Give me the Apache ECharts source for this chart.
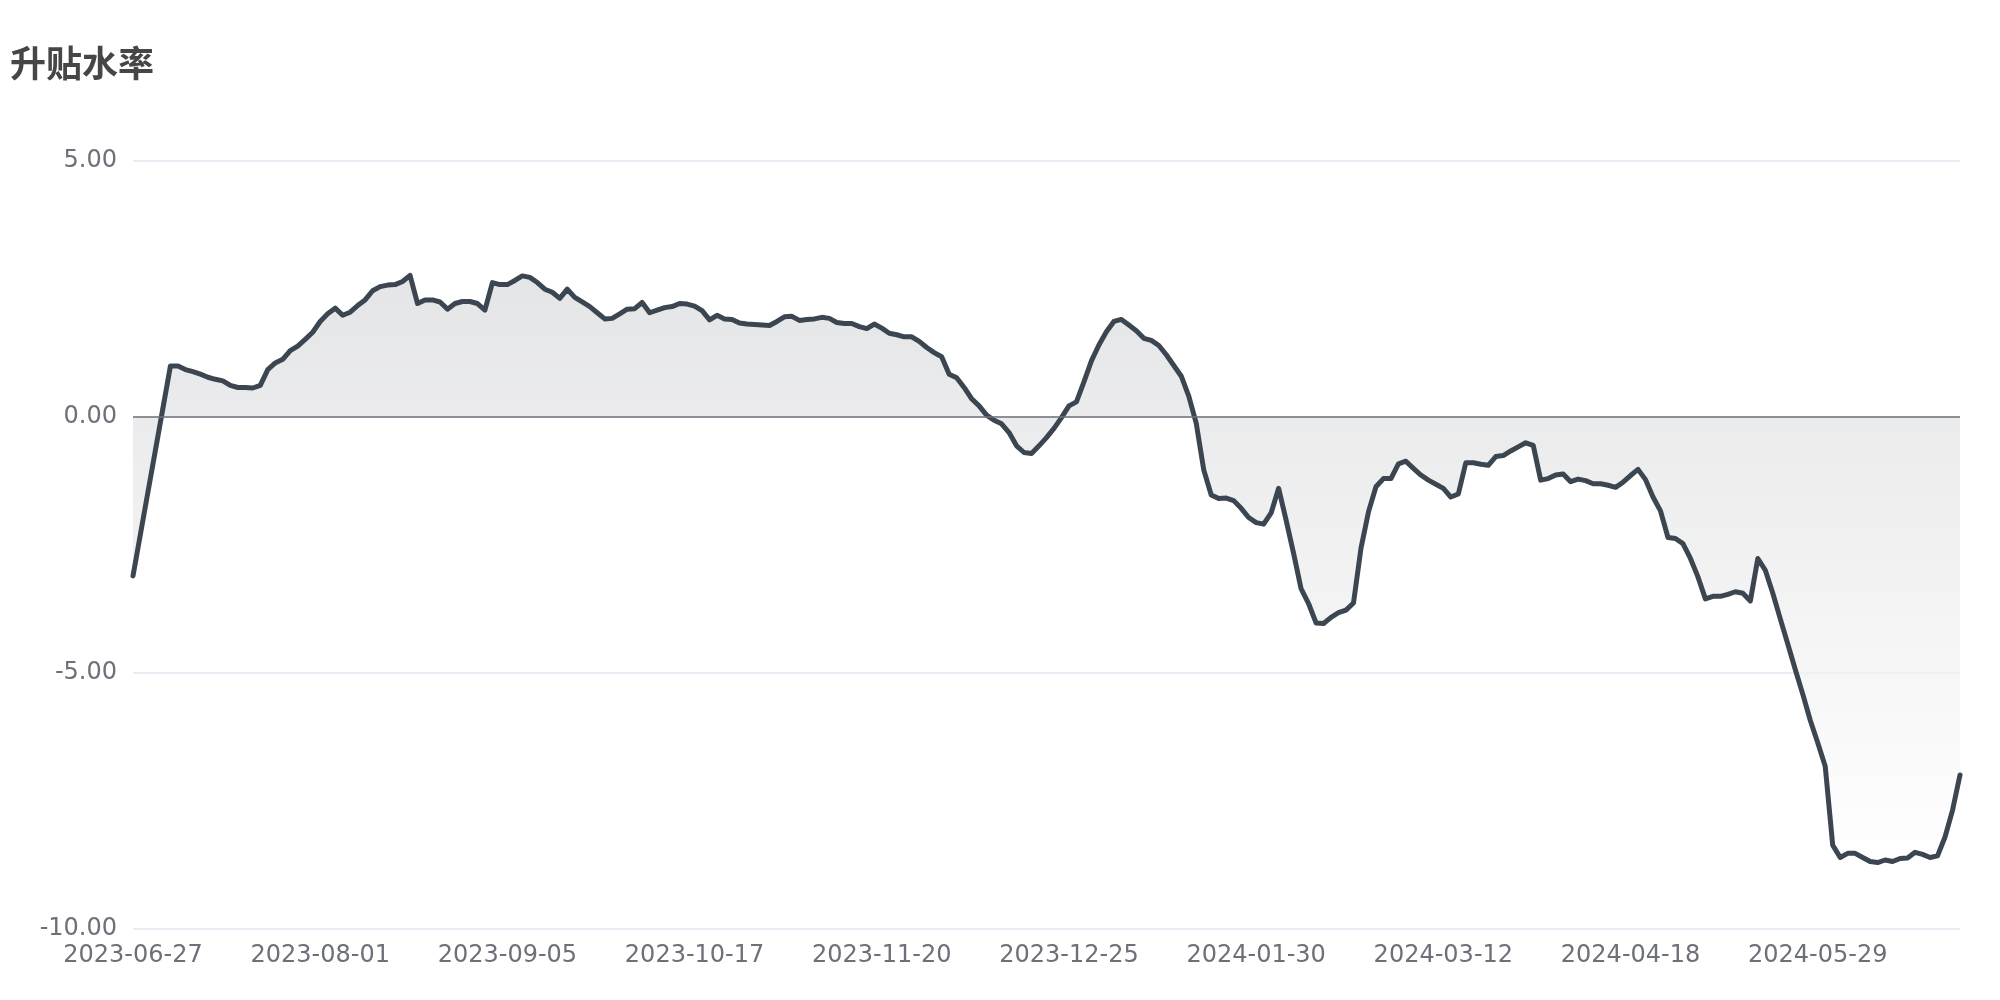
<!DOCTYPE html>
<html>
<head>
<meta charset="utf-8">
<script src="https://cdn.jsdelivr.net/npm/echarts@6/dist/echarts.min.js"></script>
<style>
html,body{margin:0;padding:0;background:#fff;}
#chart{width:2000px;height:1000px;}
</style>
</head>
<body>
<div id="chart"></div>
<script>
const chartTitle = '升贴水率';

const dates = [
'2023-06-27','2023-06-28','2023-06-29','2023-06-30',
'2023-07-03','2023-07-04','2023-07-05','2023-07-06','2023-07-07',
'2023-07-10','2023-07-11','2023-07-12','2023-07-13','2023-07-14',
'2023-07-17','2023-07-18','2023-07-19','2023-07-20','2023-07-21',
'2023-07-24','2023-07-25','2023-07-26','2023-07-27','2023-07-28',
'2023-07-31','2023-08-01','2023-08-02','2023-08-03','2023-08-04',
'2023-08-07','2023-08-08','2023-08-09','2023-08-10','2023-08-11',
'2023-08-14','2023-08-15','2023-08-16','2023-08-17','2023-08-18',
'2023-08-21','2023-08-22','2023-08-23','2023-08-24','2023-08-25',
'2023-08-28','2023-08-29','2023-08-30','2023-08-31','2023-09-01',
'2023-09-04','2023-09-05','2023-09-06','2023-09-07','2023-09-08',
'2023-09-11','2023-09-12','2023-09-13','2023-09-14','2023-09-15',
'2023-09-18','2023-09-19','2023-09-20','2023-09-21','2023-09-22',
'2023-09-25','2023-09-26','2023-09-27','2023-09-28','2023-10-07',
'2023-10-09','2023-10-10','2023-10-11','2023-10-12','2023-10-13',
'2023-10-16','2023-10-17','2023-10-18','2023-10-19','2023-10-20',
'2023-10-23','2023-10-24','2023-10-25','2023-10-26','2023-10-27',
'2023-10-30','2023-10-31','2023-11-01','2023-11-02','2023-11-03',
'2023-11-06','2023-11-07','2023-11-08','2023-11-09','2023-11-10',
'2023-11-13','2023-11-14','2023-11-15','2023-11-16','2023-11-17',
'2023-11-18','2023-11-20','2023-11-21','2023-11-22','2023-11-23',
'2023-11-24','2023-11-27','2023-11-28','2023-11-29','2023-11-30',
'2023-12-01','2023-12-04','2023-12-05','2023-12-06','2023-12-07',
'2023-12-08','2023-12-11','2023-12-12','2023-12-13','2023-12-14',
'2023-12-15','2023-12-18','2023-12-19','2023-12-20','2023-12-21',
'2023-12-22','2023-12-25','2023-12-26','2023-12-27','2023-12-28',
'2023-12-29','2024-01-02','2024-01-03','2024-01-04','2024-01-05',
'2024-01-08','2024-01-09','2024-01-10','2024-01-11','2024-01-12',
'2024-01-15','2024-01-16','2024-01-17','2024-01-18','2024-01-19',
'2024-01-22','2024-01-23','2024-01-24','2024-01-25','2024-01-26',
'2024-01-29','2024-01-30','2024-01-31','2024-02-01','2024-02-02',
'2024-02-05','2024-02-06','2024-02-07','2024-02-08','2024-02-09',
'2024-02-19','2024-02-20','2024-02-21','2024-02-22','2024-02-23',
'2024-02-26','2024-02-27','2024-02-28','2024-02-29','2024-03-01',
'2024-03-04','2024-03-05','2024-03-06','2024-03-07','2024-03-08',
'2024-03-11','2024-03-12','2024-03-13','2024-03-14','2024-03-15',
'2024-03-18','2024-03-19','2024-03-20','2024-03-21','2024-03-22',
'2024-03-25','2024-03-26','2024-03-27','2024-03-28','2024-03-29',
'2024-04-01','2024-04-02','2024-04-03','2024-04-08','2024-04-09',
'2024-04-10','2024-04-11','2024-04-12','2024-04-15','2024-04-16',
'2024-04-17','2024-04-18','2024-04-19','2024-04-22','2024-04-23',
'2024-04-24','2024-04-25','2024-04-26','2024-04-29','2024-05-06',
'2024-05-07','2024-05-08','2024-05-09','2024-05-10','2024-05-13',
'2024-05-14','2024-05-15','2024-05-16','2024-05-17','2024-05-20',
'2024-05-21','2024-05-22','2024-05-23','2024-05-24','2024-05-27',
'2024-05-28','2024-05-29','2024-05-30','2024-05-31','2024-06-03',
'2024-06-04','2024-06-05','2024-06-06','2024-06-07','2024-06-11',
'2024-06-12','2024-06-13','2024-06-14','2024-06-17','2024-06-18',
'2024-06-19','2024-06-20','2024-06-21','2024-06-24','2024-06-25',
'2024-06-26'
];

const basisRate = [
-3.11,-2.29,-1.47,-0.65,0.17,0.99,0.99,0.92,0.88,0.83,
0.77,0.73,0.70,0.61,0.57,0.57,0.56,0.61,0.92,1.05,
1.12,1.29,1.38,1.51,1.65,1.86,2.01,2.12,1.98,2.04,
2.17,2.28,2.46,2.54,2.57,2.58,2.64,2.76,2.21,2.28,
2.28,2.24,2.10,2.21,2.25,2.25,2.21,2.08,2.62,2.58,
2.58,2.66,2.75,2.72,2.62,2.49,2.43,2.31,2.49,2.33,
2.24,2.15,2.03,1.91,1.92,2.01,2.10,2.11,2.23,2.03,
2.08,2.13,2.15,2.21,2.20,2.16,2.07,1.89,1.98,1.91,
1.90,1.83,1.81,1.80,1.79,1.78,1.86,1.95,1.96,1.88,
1.90,1.91,1.94,1.92,1.84,1.82,1.82,1.76,1.72,1.81,
1.73,1.63,1.60,1.56,1.56,1.47,1.35,1.25,1.17,0.83,
0.76,0.57,0.35,0.21,0.03,-0.07,-0.14,-0.31,-0.57,-0.70,
-0.72,-0.57,-0.41,-0.23,-0.02,0.21,0.29,0.68,1.09,1.40,
1.66,1.86,1.90,1.79,1.68,1.53,1.49,1.39,1.21,1.00,
0.79,0.40,-0.13,-1.04,-1.53,-1.60,-1.59,-1.64,-1.79,-1.97,
-2.07,-2.10,-1.88,-1.40,-2.02,-2.67,-3.36,-3.65,-4.03,-4.04,
-3.92,-3.83,-3.78,-3.64,-2.57,-1.86,-1.37,-1.21,-1.21,-0.92,
-0.87,-1.01,-1.14,-1.24,-1.32,-1.40,-1.57,-1.51,-0.90,-0.90,
-0.93,-0.95,-0.78,-0.76,-0.67,-0.59,-0.51,-0.56,-1.24,-1.21,
-1.14,-1.12,-1.27,-1.22,-1.25,-1.31,-1.31,-1.34,-1.38,-1.28,
-1.15,-1.03,-1.23,-1.57,-1.84,-2.36,-2.38,-2.48,-2.77,-3.13,
-3.56,-3.51,-3.51,-3.47,-3.42,-3.45,-3.60,-2.77,-3.00,-3.45,
-3.95,-4.44,-4.94,-5.42,-5.93,-6.37,-6.83,-8.37,-8.61,-8.53,
-8.53,-8.61,-8.69,-8.71,-8.66,-8.69,-8.63,-8.62,-8.51,-8.55,
-8.61,-8.58,-8.21,-7.69,-7.00
];

const yMin = -10, yMax = 5, yStep = 5;

const chart = echarts.init(document.getElementById('chart'), null, {renderer: 'canvas'});
chart.setOption({
  animation: false,
  backgroundColor: '#ffffff',
  title: {
    text: chartTitle,
    left: 5,
    top: 40,
    textStyle: {fontSize: 36, fontWeight: 'bold', color: '#464646', fontFamily: 'Noto Sans CJK SC'}
  },
  grid: {left: 133, right: 40, top: 160.7, bottom: 71.4, containLabel: false},
  xAxis: {
    type: 'category',
    data: dates,
    boundaryGap: false,
    axisLine: {show: false},
    axisTick: {show: false},
    axisLabel: {interval: 24, color: '#6e7079', fontSize: 24, fontFamily: 'DejaVu Sans', margin: 15}
  },
  yAxis: {
    type: 'value',
    min: yMin, max: yMax, interval: yStep,
    axisLabel: {color: '#6e7079', fontSize: 24, fontFamily: 'DejaVu Sans', margin: 16,
      formatter: v => v.toFixed(2)},
    splitLine: {lineStyle: {color: '#e0e6f1', width: 1.5}}
  },
  series: [{
    type: 'line',
    data: basisRate,
    showSymbol: false,
    smooth: false,
    lineStyle: {color: '#3c4650', width: 5, join: 'round', cap: 'round'},
    itemStyle: {color: '#3c4650'},
    areaStyle: {
      color: new echarts.graphic.LinearGradient(0, 0, 0, 1, [
        {offset: 0, color: '#d9dadc'},
        {offset: 1, color: '#ffffff'}
      ])
    },
    markLine: {
      silent: true,
      symbol: 'none',
      label: {show: false},
      lineStyle: {color: '#6e7079', width: 1.5, type: 'solid'},
      data: [{yAxis: 0}]
    }
  }]
});
</script>
</body>
</html>
